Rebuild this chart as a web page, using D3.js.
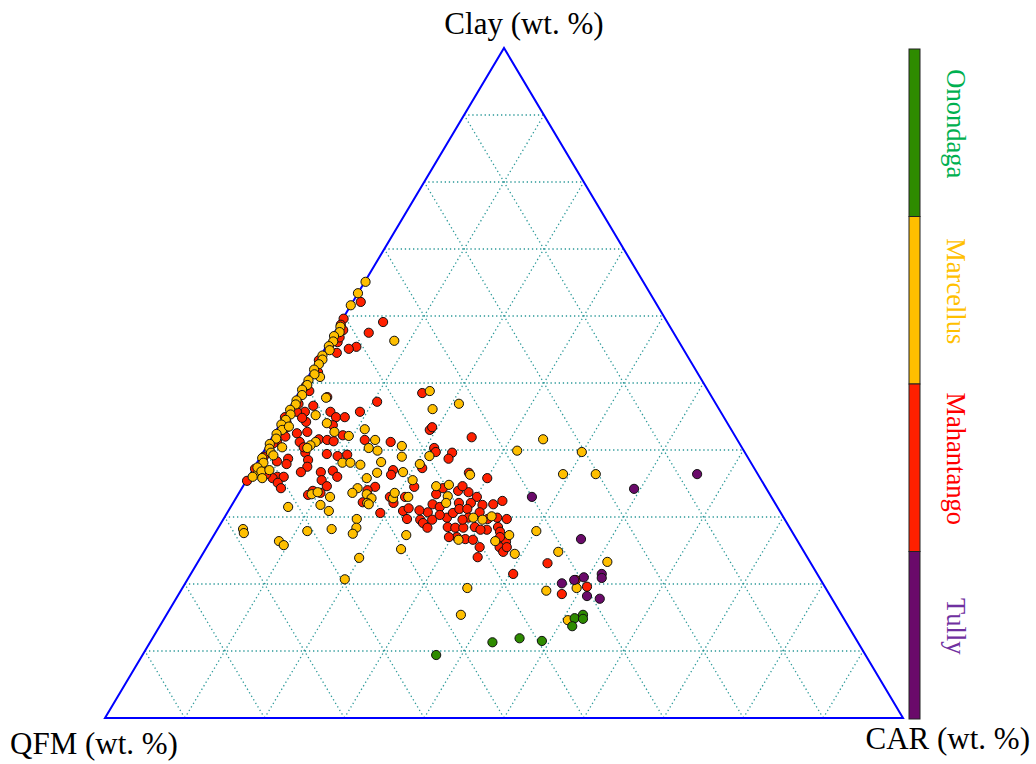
<!DOCTYPE html>
<html><head><meta charset="utf-8">
<script src="https://cdn.jsdelivr.net/npm/d3@7"></script>
<style>body{margin:0;background:#fff}svg{display:block}text{font-family:"Liberation Serif","Times New Roman",serif}</style>
</head><body><svg id="c" width="1036" height="764"></svg>
<script>
// Formations (legend order, top to bottom)
const formations = ["Onondaga", "Marcellus", "Mahantango", "Tully"];
const fillColors = ["#2e8b00", "#ffbf00", "#ff2000", "#6a0a6a"];
const labelColors = ["#00b050", "#ffc000", "#ff0000", "#7030a0"];
const gridTicks = [10, 20, 30, 40, 50, 60, 70, 80, 90];
const axisTitles = ["Clay (wt. %)", "QFM (wt. %)", "CAR (wt. %)"];

// Samples as [Clay wt.%, CAR wt.%]; QFM = 100 - Clay - CAR
const onondaga = [[14.9,51.4],[13.7,51.7],[15.4,52.2],[14.8,52.5],[11.9,46.0],[11.5,49.0],[11.3,42.9],[9.4,36.8]];
const tully = [[36.4,56.0],[34.2,49.2],[33.0,37.0],[26.7,46.3],[20.1,47.2],[20.6,48.5],[21.0,49.5],[18.2,51.3],[21.5,51.5],[20.9,51.8],[17.8,53.1]];
const mahantango = [[59.6,0.1],[62.1,1.0],[59.1,5.3],[57.5,4.3],[55.4,3.8],[55.1,3.0],[54.5,1.8],[56.1,1.1],[48.8,1.2],[47.9,3.9],[47.2,10.5],[46.6,2.8],[45.7,5.4],[44.9,6.5],[44.9,7.6],[45.7,9.1],[45.7,2.2],[45.7,1.2],[44.2,3.1],[43.7,6.7],[42.2,8.7],[42.5,2.8],[42.7,4.0],[41.2,3.8],[41.6,6.0],[41.5,7.1],[41.3,8.0],[41.5,11.8],[41.2,15.2],[39.4,8.1],[39.6,5.3],[38.5,6.2],[39.1,9.6],[38.7,3.6],[37.9,3.8],[37.5,6.6],[36.7,6.2],[36.7,8.7],[36.9,10.1],[36.0,11.1],[37.0,17.6],[36.3,17.7],[36.0,3.6],[35.8,3.1],[36.0,4.4],[35.1,4.1],[34.3,4.9],[35.5,9.4],[34.6,10.5],[33.6,10.2],[34.5,16.6],[34.0,15.9],[33.9,9.1],[32.1,20.1],[33.0,21.1],[35.4,0.1],[37.3,1.0],[39.3,10.7],[44.8,2.3],[40.4,4.7],[41.3,0.9],[33.3,8.8],[30.6,19.2],[32.2,16.2],[33.0,19.2],[30.9,21.9],[29.7,23.0],[31.3,22.4],[29.6,24.7],[29.1,25.3],[48.5,15.5],[43.0,19.2],[43.4,19.3],[41.9,25.0],[40.3,21.1],[39.7,21.6],[39.6,23.7],[38.7,23.7],[37.3,21.1],[36.6,27.3],[35.8,30.0],[34.5,21.5],[33.4,24.8],[33.9,27.3],[33.7,28.7],[33.0,30.1],[31.9,25.1],[31.5,26.2],[32.1,28.3],[32.1,29.8],[31.8,31.4],[31.9,32.7],[32.4,33.6],[30.7,25.1],[29.6,26.2],[28.4,26.2],[29.9,27.9],[30.6,28.3],[31.2,28.8],[31.2,29.8],[30.7,31.6],[29.9,30.6],[29.7,33.1],[29.9,34.2],[29.7,35.5],[28.5,28.7],[28.4,29.7],[28.4,30.7],[28.5,32.1],[28.1,33.8],[28.5,35.0],[27.0,30.6],[26.7,31.8],[26.6,32.8],[27.0,29.6],[28.1,33.0],[27.8,35.6],[26.3,37.1],[25.5,36.7],[25.5,34.2],[24.8,37.5],[24.0,34.7],[23.1,43.9],[21.5,40.4],[18.5,48.0],[20.6,48.7],[19.6,50.6],[34.6,27.5],[34.3,25.2],[31.0,23.9],[30.3,26.8],[29.6,30.0],[27.0,36.0],[25.5,37.6],
  [58.7,0.2],[57.9,0.9],[56.8,1.0],[53.4,0.1],[51.6,0.9],[49.6,0.4],[46.9,0.8],[44.9,0.1],[43.4,1.1],[41.0,0.6],[39.0,0.4],[37.2,0.2],[36.4,2.0],[42.0,1.6],[38.3,2.4],[44.1,0.7]];
const marcellus = [[65.1,0.1],[63.4,0.0],[61.6,0.0],[56.3,8.1],[50.9,1.5],[47.8,3.8],[45.2,3.8],[44.0,5.8],[43.1,11.0],[42.7,7.4],[42.1,9.5],[41.2,5.8],[40.7,5.4],[40.3,5.2],[41.5,13.1],[40.6,16.9],[40.3,12.9],[39.9,14.2],[38.1,10.7],[38.1,11.7],[38.2,15.5],[39.0,17.7],[37.8,13.1],[36.6,15.8],[35.8,14.9],[36.7,19.0],[35.5,20.8],[34.3,14.5],[33.6,14.2],[33.4,9.2],[33.0,11.7],[33.4,16.1],[32.8,17.0],[32.1,16.8],[32.8,19.7],[31.8,11.1],[31.5,7.2],[28.2,3.2],[27.6,3.6],[26.4,8.6],[25.8,9.5],[27.9,11.4],[30.9,12.6],[28.2,14.3],[33.7,9.8],[29.7,16.7],[28.4,17.3],[27.5,17.3],[23.9,19.9],[20.7,19.7],[31.9,17.1],[33.6,19.5],[33.0,21.5],[27.3,24.1],[25.2,24.5],[48.8,16.3],[46.1,18.0],[46.9,20.9],[41.6,34.1],[39.9,31.7],[39.7,39.9],[39.1,21.1],[37.9,20.5],[36.3,27.6],[36.4,39.2],[36.4,43.3],[27.9,40.1],[24.8,44.4],[23.3,51.3],[34.8,25.7],[34.6,24.2],[33.1,26.4],[32.1,26.7],[29.9,31.2],[29.6,32.5],[30.1,33.4],[26.6,31.0],[26.4,35.7],[27.3,37.0],[24.5,39.1],[19.0,45.8],[19.4,49.4],[19.4,35.7],[15.4,36.9],[14.6,50.7],[36.6,0.9],[40.4,2.0],
  [58.4,0.3],[57.6,0.6],[57.0,0.2],[56.2,0.5],[55.5,0.3],[54.9,0.7],[54.1,0.2],[53.5,0.5],[52.8,0.4],[52.0,0.2],[51.3,0.6],[50.4,0.3],[49.7,0.5],[49.0,0.2],[48.2,0.6],[47.4,0.3],[46.8,0.5],[46.0,0.2],[45.3,0.6],[44.5,0.4],[43.8,0.2],[43.0,0.7],[42.4,0.3],[41.7,0.6],[40.9,0.2],[40.2,0.5],[39.6,1.0],[38.8,0.3],[38.1,0.8],[37.4,0.4],[36.8,1.2],[36.0,0.5],[35.8,1.8],[39.2,1.5],[37.0,2.1],[43.5,1.3]];

const svg = d3.select("#c");
// Ternary projection through linear scales
const xScale = d3.scaleLinear().domain([0, 100]).range([105, 903]);
const yScale = d3.scaleLinear().domain([0, 100]).range([718, 48]);
const px = (clay, car) => xScale(car + clay / 2);
const py = (clay) => yScale(clay);

// grid
const grid = svg.append("g").attr("stroke", "#2a9898").attr("stroke-width", 1.3)
  .attr("stroke-dasharray", "1.3,2.8").attr("fill", "none");
const segs = [];
gridTicks.forEach(k => {
  segs.push([[k, 0], [k, 100 - k]]);          // constant clay
  segs.push([[0, k], [100 - k, k]]);          // constant CAR
  segs.push([[0, 100 - k], [100 - k, 0]]);    // constant QFM
});
grid.selectAll("line").data(segs).join("line")
  .attr("x1", d => px(d[0][0], d[0][1])).attr("y1", d => py(d[0][0]))
  .attr("x2", d => px(d[1][0], d[1][1])).attr("y2", d => py(d[1][0]));

// triangle
const corners = [[0, 0], [100, 0], [0, 100]];
svg.append("polygon")
  .attr("points", corners.map(c => [px(c[0], c[1]), py(c[0])].join(",")).join(" "))
  .attr("fill", "none").attr("stroke", "#0000ff").attr("stroke-width", 2);

// points
const series = [
  {name: "Mahantango", data: mahantango},
  {name: "Marcellus", data: marcellus},
  {name: "Tully", data: tully},
  {name: "Onondaga", data: onondaga}
];
const colorOf = d3.scaleOrdinal().domain(formations).range(fillColors);
series.forEach(s => {
  svg.append("g").selectAll("circle").data(s.data).join("circle")
    .attr("cx", d => px(d[0], d[1])).attr("cy", d => py(d[0]))
    .attr("r", 4.6).attr("fill", colorOf(s.name))
    .attr("stroke", "#111").attr("stroke-width", 1);
});

// axis titles
svg.append("text").attr("x", 524).attr("y", 34).attr("text-anchor", "middle")
  .attr("font-size", 31).attr("fill", "#000").text(axisTitles[0]);
svg.append("text").attr("x", 10).attr("y", 754).attr("text-anchor", "start")
  .attr("font-size", 31).attr("fill", "#000").text(axisTitles[1]);
svg.append("text").attr("x", 1030).attr("y", 749).attr("text-anchor", "end")
  .attr("font-size", 31).attr("fill", "#000").text(axisTitles[2]);

// colour bar legend
const band = d3.scaleBand().domain(formations).range([49, 719]);
const leg = svg.append("g");
leg.selectAll("rect").data(formations).join("rect")
  .attr("x", 909).attr("y", d => band(d)).attr("width", 11).attr("height", band.bandwidth())
  .attr("fill", d => colorOf(d)).attr("stroke", "#222").attr("stroke-width", 1);
leg.selectAll("text").data(formations).join("text")
  .attr("transform", d => `translate(947,${band(d) + band.bandwidth() / 2 - 9}) rotate(90)`)
  .attr("text-anchor", "middle").attr("font-size", 26.5)
  .attr("fill", (d, i) => labelColors[i]).text(d => d);
</script></body></html>
